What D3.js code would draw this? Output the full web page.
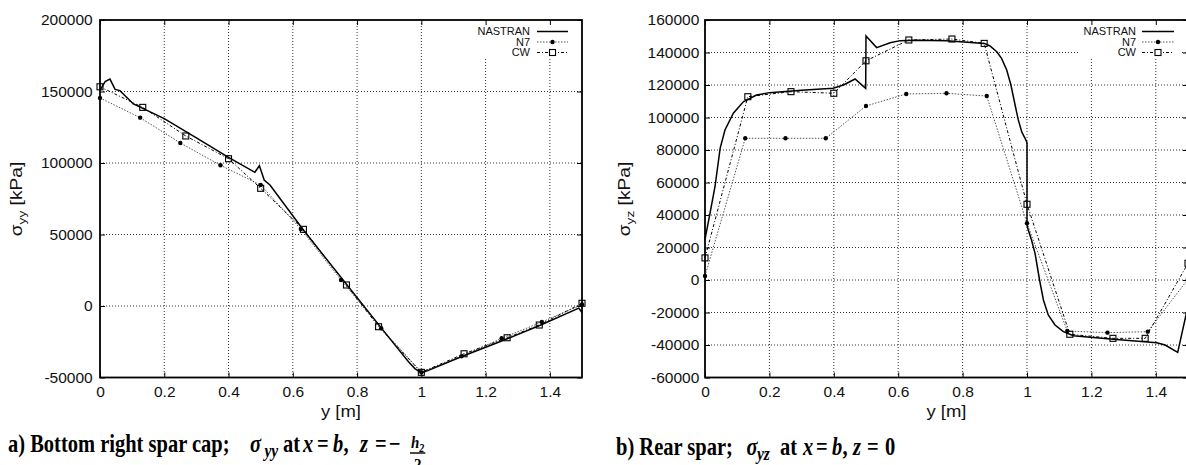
<!DOCTYPE html>
<html><head><meta charset="utf-8">
<script src="https://cdn.jsdelivr.net/npm/d3@7"></script>
<style>body{margin:0;background:#fff} svg{display:block}</style>
</head><body>
<svg id="c" width="1186" height="465" xmlns="http://www.w3.org/2000/svg"></svg>
<script>
// ---------- data ----------
const xTicks = [0, 0.2, 0.4, 0.6, 0.8, 1, 1.2, 1.4];
const leftYTicks = [-50000, 0, 50000, 100000, 150000, 200000];
const rightYTicks = [-60000, -40000, -20000, 0, 20000, 40000, 60000, 80000, 100000, 120000, 140000, 160000];
const seriesNames = ["NASTRAN", "N7", "CW"];

const n7X = [0, 0.125, 0.25, 0.375, 0.5, 0.625, 0.75, 0.875, 1.0, 1.125, 1.25, 1.375, 1.5];
const cwX = [0, 0.133, 0.267, 0.4, 0.5, 0.633, 0.767, 0.867, 1.0, 1.133, 1.267, 1.367, 1.5];

// a) sigma_yy
const leftN7 = [145500, 131700, 114000, 98400, 84600, 53800, 18200, -15500, -46300, -35200, -22600, -11200, 1000];
const leftCW = [153300, 138900, 118900, 103000, 82300, 53600, 14700, -14500, -46400, -33400, -22200, -13300, 1900];
const leftNastranX = [0, 0.016, 0.031, 0.047, 0.062, 0.104, 0.2, 0.3, 0.4, 0.482, 0.496, 0.511, 0.529, 0.633, 0.765, 0.9, 0.96, 0.98, 1.0, 1.02, 1.13, 1.25, 1.37, 1.49, 1.5];
const leftNastranY = [151000, 156900, 158700, 151500, 150600, 141300, 131000, 117500, 104000, 93500, 98100, 88100, 84600, 53100, 15800, -22300, -39000, -43800, -46800, -45200, -35000, -24500, -13500, -1500, -4500];

// b) sigma_yz
const rightN7 = [2500, 87200, 87200, 87200, 107100, 114500, 114900, 113200, 34900, -31400, -32400, -31800, 500];
const rightCW = [13600, 112800, 115900, 114900, 134900, 147700, 148300, 145600, 46600, -33400, -35900, -35900, 10300];
const rightNastranX = [0, 0.0155, 0.031, 0.047, 0.062, 0.088, 0.119, 0.16, 0.2, 0.3, 0.398, 0.43, 0.466, 0.499, 0.5, 0.533, 0.575, 0.606, 0.65, 0.75, 0.868, 0.885, 0.906, 0.921, 0.937, 0.95, 0.963, 0.973, 0.984, 0.994, 1.0, 1.0, 1.004, 1.014, 1.025, 1.039, 1.051, 1.066, 1.087, 1.113, 1.144, 1.268, 1.403, 1.429, 1.468, 1.5];
const rightNastranY = [25000, 41000, 57400, 81000, 92300, 102600, 109700, 113800, 115300, 116800, 118000, 120000, 123700, 118000, 150200, 143000, 146000, 147300, 147500, 147200, 145600, 144000, 140500, 136400, 129200, 120000, 107700, 98500, 91000, 87200, 84500, 33800, 30800, 24600, 16400, 0, -12300, -21500, -27700, -31800, -34300, -36500, -38600, -40000, -44500, -16000];

// ---------- drawing ----------
const svg = d3.select("#c");
const TOP = 20, BOT = 377.5;
const sansFont = "'Liberation Sans', Arial, Helvetica, sans-serif";
const serifFont = "'Liberation Serif', 'Times New Roman', Times, serif";

function chart(cfg) {
  const x = d3.scaleLinear().domain([0, 1.5]).range([cfg.x0, cfg.x1]);
  const y = d3.scaleLinear().domain(cfg.yDomain).range([BOT, TOP]);
  const g = svg.append("g");

  // grid
  const grid = g.append("g").attr("stroke", "#333").attr("stroke-width", 1).attr("stroke-dasharray", "1,2");
  grid.selectAll(".gx").data(xTicks.filter(d => d > 0)).join("line")
    .attr("x1", d => x(d)).attr("x2", d => x(d)).attr("y1", TOP).attr("y2", BOT);
  grid.selectAll(".gy").data(cfg.yTicks.slice(1, -1)).join("line")
    .attr("x1", cfg.x0).attr("x2", cfg.x1).attr("y1", d => y(d)).attr("y2", d => y(d));

  // legend background (hides grid)
  g.append("rect").attr("x", cfg.legTextRight - 58).attr("y", TOP + 1)
    .attr("width", cfg.legSample[1] - cfg.legTextRight + 66).attr("height", 37).attr("fill", "#fff");

  // axes (ticks inward, on all sides)
  const fmt = d => String(d);
  const styleAxis = sel => {
    sel.select(".domain").remove();
    sel.selectAll("line").attr("stroke", "#000").attr("stroke-width", 1);
    sel.selectAll("text").attr("font-family", sansFont).attr("font-size", 15.5).attr("fill", "#111");
  };
  g.append("g").attr("transform", `translate(0,${BOT})`)
    .call(d3.axisBottom(x).tickValues(xTicks).tickFormat(fmt).tickSizeInner(-5).tickSizeOuter(0).tickPadding(8.5)).call(styleAxis);
  g.append("g").attr("transform", `translate(0,${TOP})`)
    .call(d3.axisTop(x).tickValues(xTicks).tickFormat("").tickSizeInner(-5).tickSizeOuter(0)).call(styleAxis);
  g.append("g").attr("transform", `translate(${cfg.x0},0)`)
    .call(d3.axisLeft(y).tickValues(cfg.yTicks).tickFormat(fmt).tickSizeInner(-5).tickSizeOuter(0).tickPadding(cfg.yPad)).call(styleAxis);
  g.append("g").attr("transform", `translate(${cfg.x1},0)`)
    .call(d3.axisRight(y).tickValues(cfg.yTicks).tickFormat("").tickSizeInner(-5).tickSizeOuter(0)).call(styleAxis);

  // frame
  g.append("rect").attr("x", cfg.x0).attr("y", TOP).attr("width", cfg.x1 - cfg.x0).attr("height", BOT - TOP)
    .attr("fill", "none").attr("stroke", "#000").attr("stroke-width", 1.8);

  // axis titles
  g.append("text").attr("transform", `translate(${(cfg.x0 + cfg.x1) / 2},417) scale(1.12,1)`).attr("text-anchor", "middle")
    .attr("font-family", sansFont).attr("font-size", 16.5).attr("fill", "#111").text("y [m]");
  const yt = g.append("text").attr("transform", `translate(${cfg.yTitleX},199) rotate(-90) scale(1.2,1)`)
    .attr("text-anchor", "middle").attr("font-family", sansFont).attr("font-size", 16).attr("fill", "#111");
  yt.append("tspan").text("σ");
  yt.append("tspan").attr("font-size", 11.5).attr("dy", 4).text(cfg.sub);
  yt.append("tspan").attr("dy", -4).text(" [kPa]");

  // series
  const line = d3.line().x(d => x(d[0])).y(d => y(d[1]));
  const nas = cfg.nasX.map((v, i) => [v, cfg.nasY[i]]);
  const n7 = n7X.map((v, i) => [v, cfg.n7[i]]);
  const cw = cwX.map((v, i) => [v, cfg.cw[i]]);

  g.append("path").attr("d", line(n7)).attr("fill", "none").attr("stroke", "#555")
    .attr("stroke-width", 1).attr("stroke-dasharray", "1.5,1.5");
  g.append("path").attr("d", line(cw)).attr("fill", "none").attr("stroke", "#000")
    .attr("stroke-width", 1).attr("stroke-dasharray", "3,2,1,2");
  g.append("path").attr("d", line(nas)).attr("fill", "none").attr("stroke", "#000")
    .attr("stroke-width", 1.5).attr("stroke-linejoin", "miter");

  g.selectAll(".n7m").data(n7).join("circle").attr("cx", d => x(d[0])).attr("cy", d => y(d[1]))
    .attr("r", 2.2).attr("fill", "#000");
  g.selectAll(".cwm").data(cw).join("rect").attr("x", d => x(d[0]) - 3).attr("y", d => y(d[1]) - 3)
    .attr("width", 6).attr("height", 6).attr("fill", "none").attr("stroke", "#000").attr("stroke-width", 1.1);

  // legend
  const rows = [31.5, 42, 52.5];
  const [s0, s1] = cfg.legSample;
  const sm = (s0 + s1) / 2;
  seriesNames.forEach((name, i) => {
    g.append("text").attr("x", cfg.legTextRight).attr("y", rows[i] + 3.9).attr("text-anchor", "end")
      .attr("font-family", sansFont).attr("font-size", 11).attr("fill", "#111").text(name);
  });
  g.append("line").attr("x1", s0).attr("x2", s1).attr("y1", rows[0]).attr("y2", rows[0])
    .attr("stroke", "#000").attr("stroke-width", 1.5);
  g.append("line").attr("x1", s0).attr("x2", s1).attr("y1", rows[1]).attr("y2", rows[1])
    .attr("stroke", "#555").attr("stroke-width", 1).attr("stroke-dasharray", "1.5,1.5");
  g.append("circle").attr("cx", sm).attr("cy", rows[1]).attr("r", 2.2).attr("fill", "#000");
  g.append("line").attr("x1", s0).attr("x2", s1).attr("y1", rows[2]).attr("y2", rows[2])
    .attr("stroke", "#000").attr("stroke-width", 1).attr("stroke-dasharray", "3,2,1,2");
  g.append("rect").attr("x", sm - 3).attr("y", rows[2] - 3).attr("width", 6).attr("height", 6)
    .attr("fill", "#fff").attr("stroke", "#000").attr("stroke-width", 1.1);
}

chart({ x0: 100, x1: 582, yDomain: [-50000, 200000], yTicks: leftYTicks, yPad: 7.3, yTitleX: 22, sub: "yy",
  nasX: leftNastranX, nasY: leftNastranY, n7: leftN7, cw: leftCW, legTextRight: 530, legSample: [537, 568] });
chart({ x0: 705, x1: 1188, yDomain: [-60000, 160000], yTicks: rightYTicks, yPad: 5.7, yTitleX: 629.5, sub: "yz",
  nasX: rightNastranX, nasY: rightNastranY, n7: rightN7, cw: rightCW, legTextRight: 1136, legSample: [1142, 1174] });

// ---------- captions ----------
const SY = 1.18;
function caption(base, parts, frac) {
  const g = svg.append("g").attr("transform", `translate(0,${base}) scale(1,${SY})`);
  parts.forEach(p => {
    g.append("text").attr("x", p.x).attr("y", p.sub ? 4 : 0)
      .attr("font-family", serifFont).attr("font-weight", "bold")
      .attr("font-style", p.i ? "italic" : "normal")
      .attr("font-size", p.sub ? 15.5 : 20.5).attr("fill", "#000").text(p.t);
  });
  if (frac) {
    const fx = frac.x;
    const num = g.append("text").attr("x", fx).attr("y", -3.4).attr("font-family", serifFont)
      .attr("font-weight", "bold").attr("font-style", "italic").attr("font-size", 15).attr("fill", "#000");
    num.append("tspan").text("h");
    num.append("tspan").attr("font-size", 10).attr("dy", 3).text("2");
    const nw = num.node().getComputedTextLength();
    g.append("line").attr("x1", fx - 1).attr("x2", fx + nw + 1).attr("y1", 0.85).attr("y2", 0.85)
      .attr("stroke", "#000").attr("stroke-width", 1.2);
    g.append("text").attr("x", fx + nw / 2).attr("y", 15.3).attr("text-anchor", "middle")
      .attr("font-family", serifFont).attr("font-weight", "bold").attr("font-size", 15).attr("fill", "#000").text("2");
  }
}
caption(452, [
  { t: "a) Bottom right spar cap;", x: 8 }, { t: "σ", i: 1, x: 250 }, { t: "yy", i: 1, sub: 1, x: 264.5 },
  { t: "at", x: 283 }, { t: "x", i: 1, x: 303 }, { t: "=", x: 317 }, { t: "b", i: 1, x: 333 },
  { t: ",", x: 343.5 }, { t: "z", i: 1, x: 360 }, { t: "=", x: 375 }, { t: "−", x: 389 }
], { x: 411 });
caption(455, [
  { t: "b) Rear spar;", x: 616 }, { t: "σ", i: 1, x: 746.5 }, { t: "yz", i: 1, sub: 1, x: 757 },
  { t: "at", x: 780 }, { t: "x", i: 1, x: 803 }, { t: "=", x: 816 }, { t: "b", i: 1, x: 832 },
  { t: ",", x: 842.5 }, { t: "z", i: 1, x: 853 }, { t: "=", x: 867 }, { t: "0", x: 885 }
], null);
</script>
</body></html>
